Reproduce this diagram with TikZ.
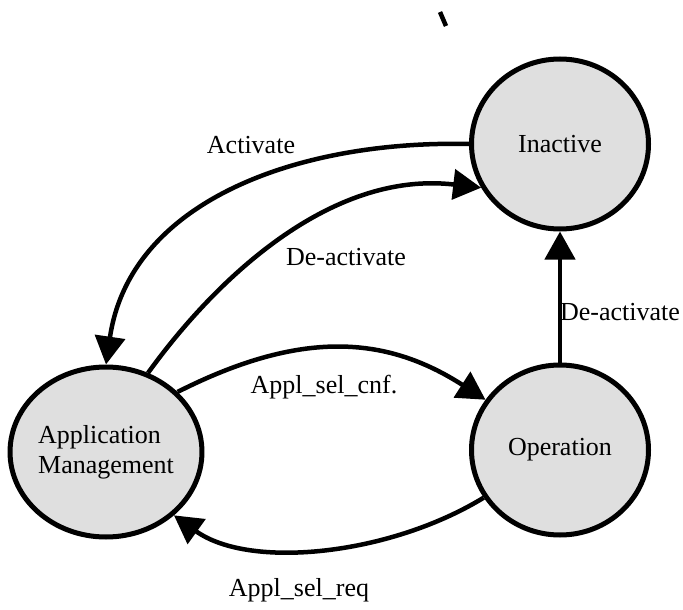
\documentclass[tikz,border=0pt]{standalone}
\usepackage{fontspec}
\setmainfont{Liberation Serif}
\usetikzlibrary{shapes.geometric,arrows.meta}

\begin{document}
\begin{tikzpicture}[
    x = 1pt, y = -1pt,
    state/.style={ draw, ellipse, line width = 5pt, fill = gray!25,
      minimum width = 177pt, minimum height = 170pt, inner sep = 0pt,
      font = \fontsize{26}{30}\selectfont },
    conn/.style={ line width = 4.5pt, -{Triangle[length=28pt,width=30pt]} },
    lbl/.style={ font = \fontsize{26}{30}\selectfont, inner sep = 0pt }
    ]
  \useasboundingbox (0,0) rectangle (683,610);
  \node[state] (inactive) at (560,144) {Inactive};
  \node[state, align = left] (appmgmt) at (106,452) {Application\\Management};
  \node[state] (operation) at (560,450) {Operation};
  \node[lbl] (activate) at (251,145) {Activate};
  \node[lbl] (deact) at (346,257) {De-activate};
  \node[lbl] (selcnf) at (324,387) {Appl\_sel\_cnf.};
  \node[lbl] (deactop) at (620,312) {De-activate};
  \node[lbl] (selreq) at (299,590) {Appl\_sel\_req};
\draw[conn] (inactive.west) .. controls (300,140) and (130,200) .. (appmgmt.north) ;
\draw[conn] (appmgmt.62) .. controls (215,280) and (330,170) .. (inactive.209) ;
\draw[conn] (appmgmt.40) .. controls (300,330) and (385,335) .. (operation.146) ;
\draw[conn] (operation.212) .. controls (390,555) and (250,570) .. (appmgmt.317) ;
\draw[conn] (operation.north) -- (inactive.south) ;
\draw[line width = 4.5pt] (440,12) -- (446,26) ;
\end{tikzpicture}
\end{document}
